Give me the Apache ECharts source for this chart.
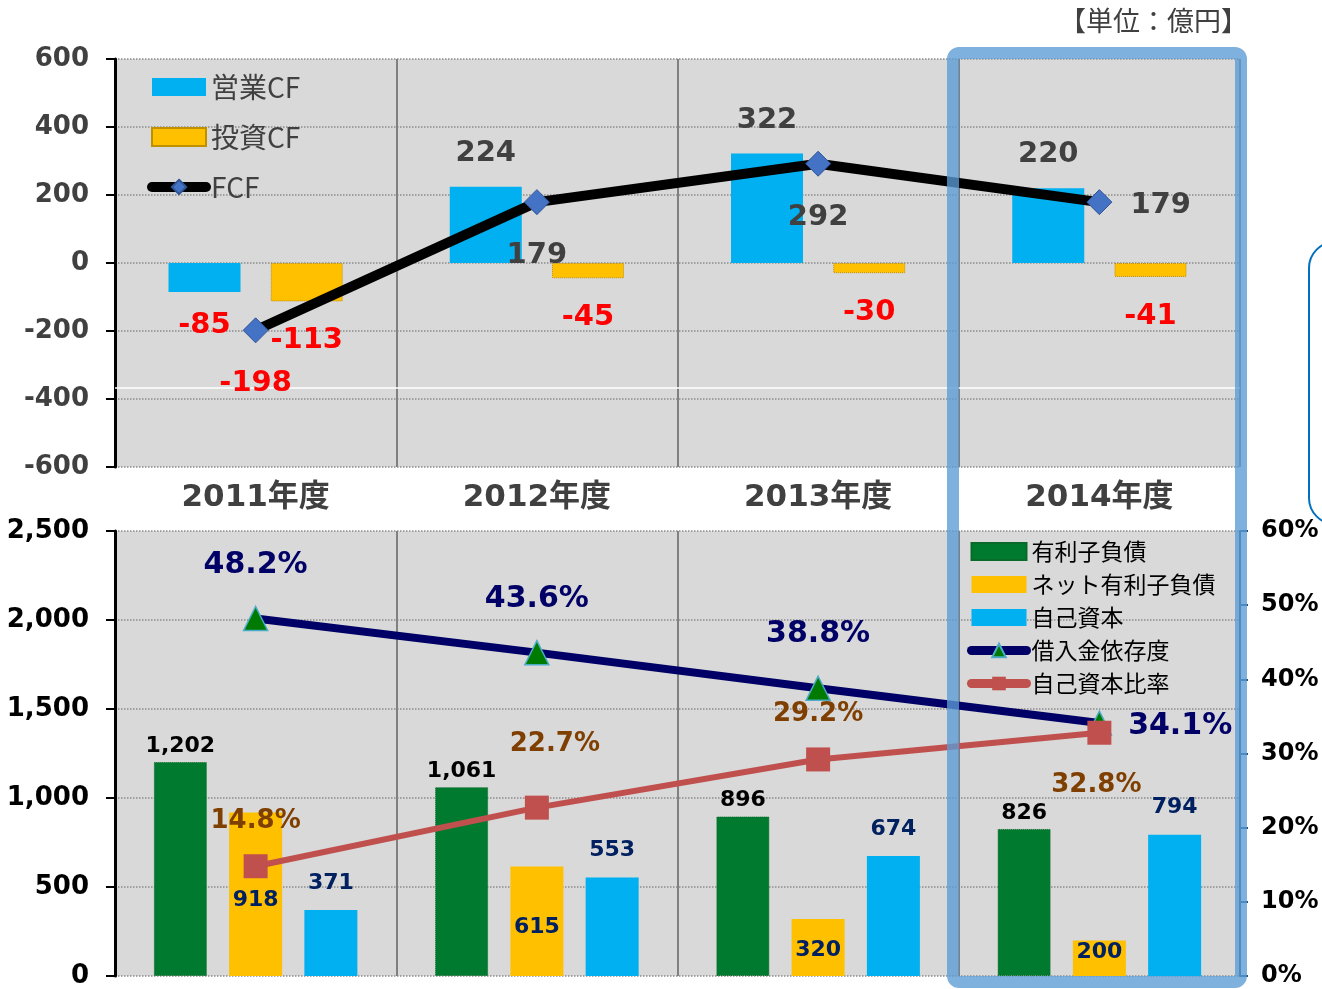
<!DOCTYPE html>
<html>
<head>
<meta charset="utf-8">
<script src="https://cdn.jsdelivr.net/npm/echarts@6/dist/echarts.min.js"></script>
<style>
  html, body { margin: 0; padding: 0; background: #fff; }
  #main { width: 1322px; height: 989px; }
</style>
</head>
<body>
<div id="main"></div>
<script>
// カテゴリ
const years = ['2011年度', '2012年度', '2013年度', '2014年度']
// 上段 CF (億円)
const opCF = [-85, 224, 322, 220]
const invCF = [-113, -45, -30, -41]
const fcf = [-198, 179, 292, 179]
// 下段 (億円)
const debt = [1202, 1061, 896, 826]
const netDebt = [918, 615, 320, 200]
const equity = [371, 553, 674, 794]
// 比率 (%)
const debtRatio = [48.2, 43.6, 38.8, 34.1]
const equityRatio = [14.8, 22.7, 29.2, 32.8]

const NUM = 'DejaVu Sans, Noto Sans CJK JP'
const JP = 'Noto Sans CJK JP'
const GRAY = '#404040'
const RED = '#ff0000'

const fmt = v => Number(v).toLocaleString('en-US')

// ラベル配置（見た目用）
const fcfLabelPos = ['bottom', 'bottom', 'bottom', 'right']
const netLabelDy = [-65, -38, -15, -13]
const debtRatioPos = ['top', 'top', 'top', 'right']
const eqRatioPos = ['top', 'top', 'top', 'bottom']
const eqRatioDist = [20, 20, 20, 28]
const eqRatioOffset = [[0, 0], [18, -18], [0, 0], [-3, 0]]

const chart = echarts.init(document.getElementById('main'))

const signedBar = (arr, colorPos) => arr.map(v => ({
  value: v,
  label: {
    position: v < 0 ? 'bottom' : 'top',
    color: v < 0 ? RED : colorPos
  }
}))

const option = {
  animation: false,
  grid: [
    { left: 115, top: 59, width: 1125, height: 408, show: true, backgroundColor: '#d9d9d9', borderWidth: 0 },
    { left: 115, top: 531, width: 1125, height: 446, show: true, backgroundColor: '#d9d9d9', borderWidth: 0 }
  ],
  legend: [
    {
      orient: 'vertical', left: 147, top: 73, padding: 0, itemWidth: 54, itemHeight: 18, itemGap: 22,
      textStyle: { fontFamily: JP, fontSize: 28, color: GRAY },
      data: [
        { name: '営業CF', icon: 'rect' },
        { name: '投資CF', icon: 'rect' },
        { name: 'FCF', lineStyle: { width: 10, cap: 'round' } }
      ]
    },
    {
      orient: 'vertical', left: 967, top: 540, padding: 0, itemWidth: 55, itemHeight: 17, itemGap: 10,
      textStyle: { fontFamily: JP, fontSize: 23, color: '#000' },
      data: [
        { name: '有利子負債', icon: 'rect' },
        { name: 'ネット有利子負債', icon: 'rect' },
        { name: '自己資本', icon: 'rect' },
        { name: '借入金依存度', lineStyle: { width: 9, cap: 'round' } },
        { name: '自己資本比率', lineStyle: { width: 9, cap: 'round' } }
      ]
    }
  ],
  xAxis: [
    {
      type: 'category', gridIndex: 0, data: years,
      axisLine: { show: false }, axisTick: { show: false },
      axisLabel: { margin: 15, fontFamily: NUM, fontSize: 31, fontWeight: 'bold', color: GRAY },
      splitLine: { show: true, lineStyle: { color: '#808080', width: 2 } }
    },
    {
      type: 'category', gridIndex: 1, data: years,
      axisLine: { show: false }, axisTick: { show: false }, axisLabel: { show: false },
      splitLine: { show: true, lineStyle: { color: '#808080', width: 2 } }
    }
  ],
  yAxis: [
    {
      type: 'value', gridIndex: 0, min: -600, max: 600, interval: 200,
      axisLine: { show: true, lineStyle: { color: '#000', width: 3 } },
      axisTick: { show: true, length: 9, lineStyle: { color: '#000', width: 2 } },
      axisLabel: { margin: 26, fontFamily: NUM, fontSize: 26, fontWeight: 'bold', color: GRAY },
      splitLine: { show: true, lineStyle: { color: '#8c8c8c', type: 'dotted', width: 1.5 } }
    },
    {
      type: 'value', gridIndex: 1, min: 0, max: 2500, interval: 500,
      axisLine: { show: true, lineStyle: { color: '#000', width: 3 } },
      axisTick: { show: true, length: 9, lineStyle: { color: '#000', width: 2 } },
      axisLabel: { margin: 26, fontFamily: NUM, fontSize: 26, fontWeight: 'bold', color: '#000', formatter: fmt },
      splitLine: { show: true, lineStyle: { color: '#8c8c8c', type: 'dotted', width: 1.5 } }
    },
    {
      type: 'value', gridIndex: 1, position: 'right', min: 0, max: 60, interval: 10,
      axisLine: { show: true, lineStyle: { color: '#1f4e79', width: 2 } },
      axisTick: { show: true, length: 8, lineStyle: { color: '#1f4e79', width: 2 } },
      axisLabel: { margin: 21, fontFamily: NUM, fontSize: 24, fontWeight: 'bold', color: '#000', formatter: '{value}%' },
      splitLine: { show: false }
    }
  ],
  series: [
    {
      name: '営業CF', type: 'bar', xAxisIndex: 0, yAxisIndex: 0,
      barWidth: 72, barGap: '42%',
      itemStyle: { color: '#00b0f0' },
      label: { show: true, distance: 19, fontFamily: NUM, fontSize: 29, fontWeight: 'bold' },
      data: signedBar(opCF, GRAY)
    },
    {
      name: '投資CF', type: 'bar', xAxisIndex: 0, yAxisIndex: 0,
      barWidth: 72, barGap: '42%',
      itemStyle: { color: '#ffc000', borderColor: '#bf9000', borderWidth: 1, borderType: 'dotted' },
      label: { show: true, distance: 25, fontFamily: NUM, fontSize: 29, fontWeight: 'bold' },
      data: signedBar(invCF, GRAY)
    },
    {
      name: 'FCF', type: 'line', xAxisIndex: 0, yAxisIndex: 0, z: 5,
      lineStyle: { color: '#000', width: 10 },
      symbol: 'diamond', symbolSize: 25,
      itemStyle: { color: '#4472c4', borderColor: '#2f5597', borderWidth: 1 },
      label: { show: true, distance: 26, fontFamily: NUM, fontSize: 29, fontWeight: 'bold' },
      data: fcf.map((v, i) => ({
        value: v,
        label: {
          position: fcfLabelPos[i],
          distance: fcfLabelPos[i] === 'right' ? 18 : 26,
          offset: fcfLabelPos[i] === 'right' ? [0, 3] : [0, 0],
          color: v < 0 ? RED : GRAY
        }
      })),
      markLine: {
        silent: true, symbol: 'none', label: { show: false },
        lineStyle: { color: '#fff', type: 'solid', width: 1.5 },
        data: [{ yAxis: -368 }]
      }
    },
    {
      name: '有利子負債', type: 'bar', xAxisIndex: 1, yAxisIndex: 1,
      barWidth: 53, barGap: '42%',
      itemStyle: { color: '#007a2e', borderColor: '#0a6a2a', borderWidth: 1, borderType: 'dotted' },
      label: { show: true, position: 'top', distance: 5, fontFamily: NUM, fontSize: 22, fontWeight: 'bold', color: '#000', formatter: p => fmt(p.value) },
      data: debt
    },
    {
      name: 'ネット有利子負債', type: 'bar', xAxisIndex: 1, yAxisIndex: 1,
      barWidth: 53, barGap: '42%',
      itemStyle: { color: '#ffc000' },
      label: { show: true, position: 'insideBottom', distance: 0, fontFamily: NUM, fontSize: 22, fontWeight: 'bold', color: '#002060' },
      data: netDebt.map((v, i) => ({ value: v, label: { offset: [0, netLabelDy[i]] } }))
    },
    {
      name: '自己資本', type: 'bar', xAxisIndex: 1, yAxisIndex: 1,
      barWidth: 53, barGap: '42%',
      itemStyle: { color: '#00b0f0' },
      label: { show: true, position: 'top', distance: 16, fontFamily: NUM, fontSize: 22, fontWeight: 'bold', color: '#002060' },
      data: equity
    },
    {
      name: '借入金依存度', type: 'line', xAxisIndex: 1, yAxisIndex: 2, z: 5,
      lineStyle: { color: '#000066', width: 8 },
      symbol: 'triangle', symbolSize: 24,
      itemStyle: { color: '#007a00', borderColor: '#4bacc6', borderWidth: 1.5 },
      label: { show: true, distance: 25, fontFamily: NUM, fontSize: 30, fontWeight: 'bold', color: '#000066', formatter: '{c}%' },
      data: debtRatio.map((v, i) => ({
        value: v,
        label: {
          position: debtRatioPos[i],
          distance: debtRatioPos[i] === 'right' ? 16 : 26,
          offset: debtRatioPos[i] === 'right' ? [0, 3] : [0, 0]
        }
      }))
    },
    {
      name: '自己資本比率', type: 'line', xAxisIndex: 1, yAxisIndex: 2, z: 6,
      lineStyle: { color: '#c0504d', width: 6 },
      symbol: 'rect', symbolSize: 24,
      itemStyle: { color: '#c0504d' },
      label: { show: true, fontFamily: NUM, fontSize: 26, fontWeight: 'bold', color: '#7f3f00', formatter: '{c}%' },
      data: equityRatio.map((v, i) => ({
        value: v,
        label: { position: eqRatioPos[i], distance: eqRatioDist[i], offset: eqRatioOffset[i] }
      }))
    }
  ],
  graphic: [
    {
      type: 'text', right: 74, top: 7, z: 100,
      style: { text: '【単位：億円】', font: '27px "Noto Sans CJK JP"', fill: GRAY }
    },
    {
      type: 'rect', z: 100, silent: true,
      shape: { x: 953, y: 53, width: 288, height: 929, r: 6 },
      style: { fill: 'none', stroke: 'rgba(91,155,213,0.78)', lineWidth: 12 }
    },
    {
      type: 'rect', z: 100, silent: true,
      shape: { x: 1309, y: 242, width: 120, height: 282, r: 26 },
      style: { fill: 'none', stroke: '#0070c0', lineWidth: 2 }
    }
  ]
}

chart.setOption(option)
</script>
</body>
</html>
